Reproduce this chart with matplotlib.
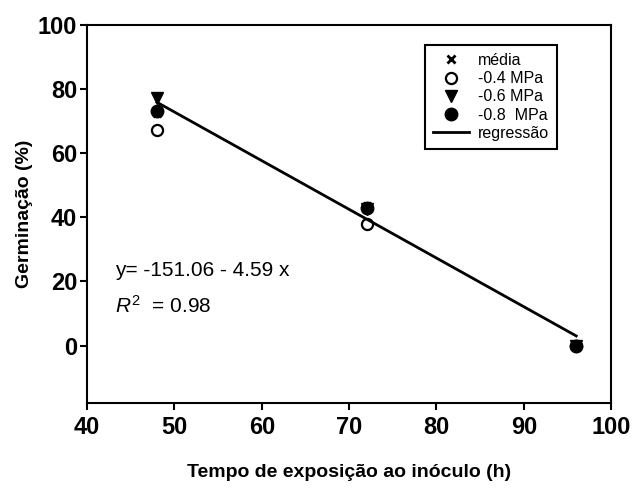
import matplotlib
matplotlib.use('Agg')
import matplotlib.pyplot as plt

plt.rcParams['font.family'] = ['Liberation Sans', 'DejaVu Sans']
plt.rcParams['mathtext.fontset'] = 'custom'
plt.rcParams['mathtext.rm'] = 'Liberation Sans'
plt.rcParams['mathtext.it'] = 'Liberation Sans:italic'

# exposure time (h)
tempo = [48, 72, 96]
media = [72.5, 43.5, 0.0]
mpa_04 = [67.2, 38.0, 0.0]
mpa_06 = [77.2, 42.5, 0.0]
mpa_08 = [73.1, 42.8, 0.0]

# fitted regression line endpoints
reg_x = [48, 96]
reg_y = [75.9, 3.0]

fig, ax = plt.subplots(figsize=(6.4, 4.9), dpi=100)
fig.subplots_adjust(left=0.136, right=0.955, top=0.949, bottom=0.177)

ax.plot(tempo, media, linestyle='none', marker='x', color='black', ms=6, mew=2, label='média')
ax.plot(tempo, mpa_04, linestyle='none', marker='o', mfc='white', mec='black', ms=8, mew=1.6, label='-0.4 MPa')
ax.plot(tempo, mpa_06, linestyle='none', marker='v', color='black', ms=9, label='-0.6 MPa')
ax.plot(tempo, mpa_08, linestyle='none', marker='o', color='black', ms=9, label='-0.8  MPa')
ax.plot(reg_x, reg_y, color='black', linewidth=2, label='regressão')

ax.set_xlim(40, 100)
ax.set_ylim(-18, 100)
ax.set_xticks([40, 50, 60, 70, 80, 90, 100])
ax.set_yticks([0, 20, 40, 60, 80, 100])

for s in ax.spines.values():
    s.set_linewidth(1.5)
ax.tick_params(axis='both', direction='out', length=5, width=1.5, labelsize=17)
ax.tick_params(axis='y', pad=2)
ax.tick_params(axis='x', pad=4)
for lbl in ax.get_xticklabels() + ax.get_yticklabels():
    lbl.set_fontweight('bold')

ax.set_xlabel('Tempo de exposição ao inóculo (h)', fontsize=14, fontweight='bold', labelpad=18)
ax.set_ylabel('Germinação (%)', fontsize=14, fontweight='bold', labelpad=3.5)

ax.text(43.2, 23.4, 'y= -151.06 - 4.59 x', fontsize=15, va='center')
ax.text(43.2, 12.5, r'$\mathit{R}^{2}$  = 0.98', fontsize=15, va='center')

leg = ax.legend(loc='upper right', bbox_to_anchor=(0.897, 0.947), fontsize=11.5,
                fancybox=False, framealpha=1, edgecolor='black', handlelength=2.2,
                labelspacing=0.2, borderpad=0.5, handletextpad=0.6, borderaxespad=0)
leg.get_frame().set_linewidth(1.5)

fig.savefig('out.png', dpi=100)
